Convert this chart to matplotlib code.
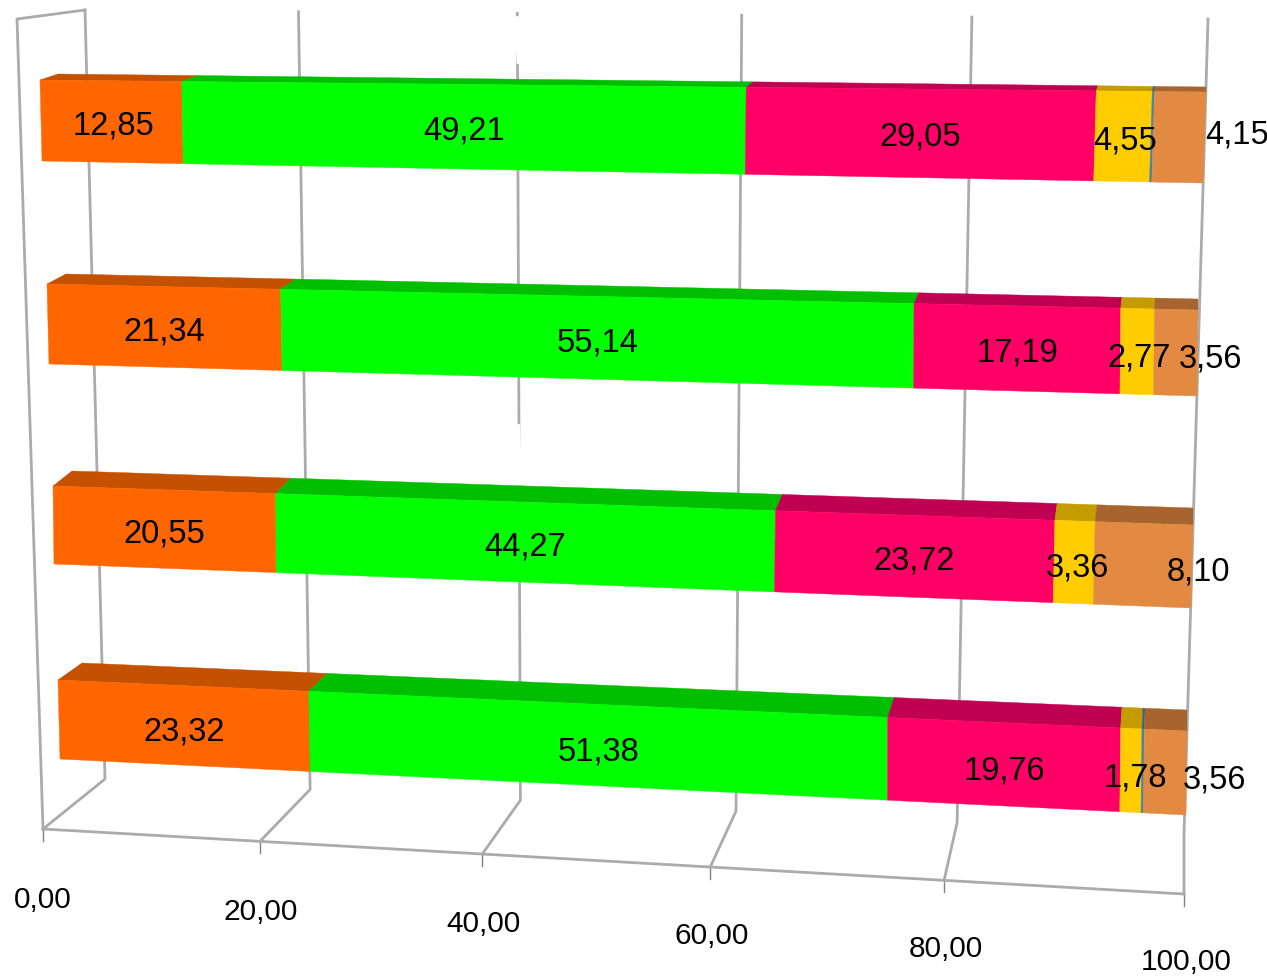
import matplotlib
matplotlib.use("Agg")
import matplotlib.pyplot as plt
from matplotlib.patches import Polygon

# values per row, top bar first
orange = [12.85, 21.34, 20.55, 23.32]
green = [49.21, 55.14, 44.27, 51.38]
pink = [29.05, 17.19, 23.72, 19.76]
yellow = [4.55, 2.77, 3.36, 1.78]
blue = [0.19, 0.00, 0.00, 0.20]
tan = [4.15, 3.56, 8.10, 3.56]
axis_ticks = [0, 20, 40, 60, 80, 100]

series = [orange, green, pink, yellow, blue, tan]
front_colors = ["#FF6600", "#00FF00", "#FF0066", "#FFCC00", "#4F81A0", "#E28A42"]
top_colors = ["#C45100", "#00BE00", "#C00050", "#C49C00", "#3E6580", "#A8642E"]

K = 1.065
# front top L/R, front bottom L/R, back top L/R in pixels
row_geom = [
    ((40, 81), (1206, 93), (42, 162), (1203, 184), (58, 75), (1206, 88)),
    ((47, 285), (1198, 311), (49, 365), (1197, 397), (66, 275), (1198, 300)),
    ((53, 487), (1193, 526), (54, 565), (1191, 609), (72, 472), (1193, 509)),
    ((58, 681), (1187, 732), (60, 760), (1186, 816), (82, 664), (1187, 711)),
]
wall_top = ((85, 11), (1208, 20))
wall_bottom = ((105, 780), (1184, 835))
floor_front = ((43, 830), (1184, 895))
tick_text = ((43, 900), (1186, 962))
left_corner = (17, 20)

row_dy = [3, 4, 4, 6]
# labels that sit away from the middle of their segment (row, series): dx, dy
nudge = {
    (0, 0): (2, 0), (0, 3): (2, 1), (0, 5): (58, -6),
    (1, 3): (2, 2), (1, 5): (35, 2),
    (2, 3): (3, 1), (2, 5): (55, 2),
    (3, 3): (4, 1), (3, 5): (49, 1),
}


def persp(v):
    t = v / 100
    return t / (t + K * (1 - t))


def along(ends, v):
    s = persp(v)
    return (ends[0][0] + (ends[1][0] - ends[0][0]) * s,
            ends[0][1] + (ends[1][1] - ends[0][1]) * s)


def fmt(v):
    return f"{v:.2f}".replace(".", ",")


fig = plt.figure(figsize=(12.67, 9.78), dpi=100)
ax = fig.add_axes([0, 0, 1, 1])
ax.set_xlim(0, 1267)
ax.set_ylim(978, 0)
ax.axis("off")

grid_color = "#ABABAB"
grid_lw = 2.0

# walls and floor
for v in axis_ticks:
    top = along(wall_top, v)
    knee = along(wall_bottom, v)
    foot = along(floor_front, v)
    ax.plot([top[0], knee[0], foot[0]], [top[1], knee[1], foot[1]],
            color=grid_color, lw=grid_lw, zorder=1, solid_joinstyle="round")
    ax.plot([foot[0], foot[0]], [foot[1], foot[1] + 12], color="#808080", lw=1.0, zorder=1)
    lx, ly = along(tick_text, v)
    ax.text(lx, ly, fmt(v), ha="center", va="center", fontsize=21.5,
            family="Liberation Sans", color="black", zorder=5)

ax.plot([wall_top[0][0], left_corner[0], floor_front[0][0]],
        [wall_top[0][1], left_corner[1], floor_front[0][1]],
        color=grid_color, lw=grid_lw, zorder=1)
ax.plot([floor_front[0][0], floor_front[1][0]], [floor_front[0][1], floor_front[1][1]],
        color=grid_color, lw=grid_lw, zorder=1)

# the 40 line has two holes in the reference
x40 = along(wall_top, 40)[0]
for y0, y1 in [(20, 62), (428, 490)]:
    ax.plot([x40, x40 + 2], [y0, y1], color="white", lw=grid_lw + 2, zorder=1.5)

# bars
for r, geom in enumerate(row_geom):
    ftl, ftr, fbl, fbr, btl, btr = geom
    start = 0.0
    for s, vals in enumerate(series):
        v = vals[r]
        if v <= 0:
            continue
        end = start + v
        a = along((ftl, ftr), start)
        b = along((ftl, ftr), end)
        c = along((fbl, fbr), end)
        d = along((fbl, fbr), start)
        e = along((btl, btr), end)
        f = along((btl, btr), start)
        ax.add_patch(Polygon([f, e, b, a], closed=True, facecolor=top_colors[s],
                             edgecolor=top_colors[s], lw=0.3, zorder=2))
        ax.add_patch(Polygon([a, b, c, d], closed=True, facecolor=front_colors[s],
                             edgecolor=front_colors[s], lw=0.3, zorder=3))
        if s != 4:
            # label sits in the middle of the drawn face
            cx = (a[0] + b[0] + c[0] + d[0]) / 4
            cy = (a[1] + b[1] + c[1] + d[1]) / 4
            dx, dy = nudge.get((r, s), (0, 0))
            ax.text(cx + dx, cy + row_dy[r] + dy, fmt(v),
                    ha="center", va="center", fontsize=23.5, family="Liberation Sans",
                    color="black", zorder=5)
        start = end

fig.savefig("out.png", dpi=100, facecolor="white")
